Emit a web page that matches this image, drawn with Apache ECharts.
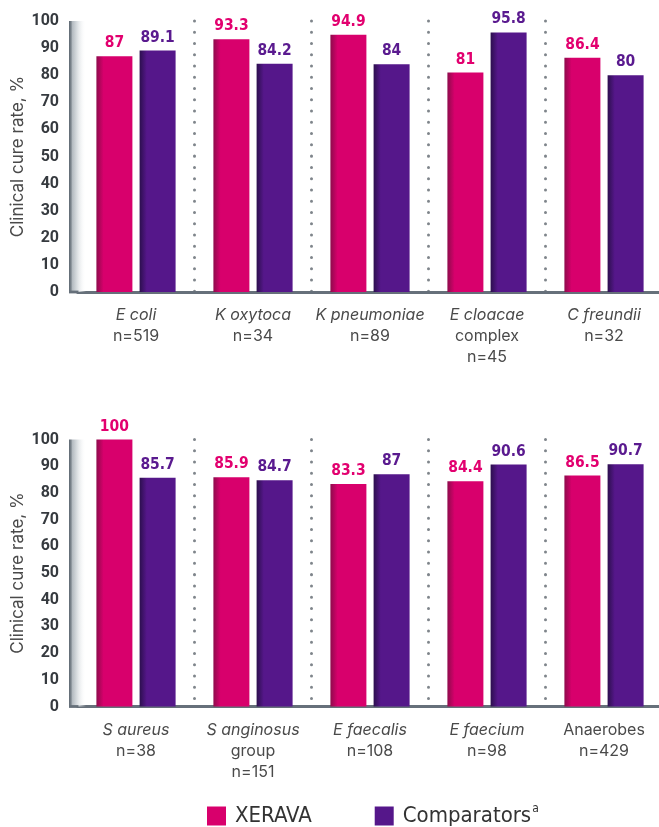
<!DOCTYPE html>
<html>
<head>
<meta charset="utf-8">
<script src="https://cdn.jsdelivr.net/npm/echarts@6/dist/echarts.min.js"></script>
<style>
html,body{margin:0;padding:0;background:#fff;}
#c{width:659px;height:827px;}
</style>
</head>
<body>
<div id="c"></div>
<script>
// ---- data ----
const topSpecies = ['E coli', 'K oxytoca', 'K pneumoniae', 'E cloacae', 'C freundii'];
const topQualifier = ['', '', '', 'complex', ''];
const topItalic = [true, true, true, true, true];
const topN = [519, 34, 89, 45, 32];
const topXerava = [87, 93.3, 94.9, 81, 86.4];
const topComparators = [89.1, 84.2, 84, 95.8, 80];

const bottomSpecies = ['S aureus', 'S anginosus', 'E faecalis', 'E faecium', 'Anaerobes'];
const bottomQualifier = ['', 'group', '', '', ''];
const bottomItalic = [true, true, true, true, false];
const bottomN = [38, 151, 108, 98, 429];
const bottomXerava = [100, 85.9, 83.3, 84.4, 86.5];
const bottomComparators = [85.7, 84.7, 87, 90.6, 90.7];

const yTicks = [0, 10, 20, 30, 40, 50, 60, 70, 80, 90, 100];
const yAxisName = 'Clinical cure rate, %';
const seriesNames = ['XERAVA', 'Comparators'];

// ---- styles ----
const PINK = '#d8006c', PINK_DARK = '#8e0b4c';
const PURPLE = '#55178a', PURPLE_DARK = '#2c0f4e';
const PINK_LABEL = '#e2006f', PURPLE_LABEL = '#5a1a8f';
const NARROW = '"Liberation Sans Narrow", "DejaVu Sans Condensed", "Roboto", sans-serif';
const LABEL_FONT = 'Inter, "Noto Sans", sans-serif';
const Y_OFFSET = 7.5;

function grad(dark, main) {
  return new echarts.graphic.LinearGradient(0, 0, 1, 0, [
    {offset: 0, color: dark}, {offset: 0.2, color: main}, {offset: 1, color: main}
  ]);
}

function catFormatter(species, italic, qualifier, ns) {
  return function (value, idx) {
    const lines = [];
    lines.push((italic[idx] ? '{i|' : '{r|') + species[idx] + '}');
    if (qualifier[idx]) lines.push('{r|' + qualifier[idx] + '}');
    lines.push('{r|n=' + ns[idx] + '}');
    return lines.join('\n');
  };
}

const richCat = {
  i: {fontFamily: LABEL_FONT, fontStyle: 'italic', fontSize: 16, color: '#4a4a4a', lineHeight: 21},
  r: {fontFamily: LABEL_FONT, fontSize: 16, color: '#4a4a4a', lineHeight: 21}
};

function xAxisFor(gridIndex, species, italic, qualifier, ns) {
  return {
    type: 'category', gridIndex: gridIndex, data: species,
    axisTick: {show: false},
    axisLine: {show: true, lineStyle: {color: '#66707a', width: 2.8}},
    axisLabel: {margin: 13, formatter: catFormatter(species, italic, qualifier, ns), rich: richCat, interval: 0},
    splitLine: {
      show: true,
      interval: function (idx) { return idx !== 0; },
      lineStyle: {color: '#7f858b', width: 3, type: [0.01, 11.25], cap: 'round'}
    }
  };
}

function yAxisFor(gridIndex) {
  return {
    type: 'value', gridIndex: gridIndex, min: yTicks[0], max: yTicks[yTicks.length - 1], interval: 10,
    offset: Y_OFFSET,
    axisLine: {show: false}, axisTick: {show: false}, splitLine: {show: false},
    axisLabel: {margin: 11, color: '#363a3f', fontFamily: 'Roboto, sans-serif', fontWeight: 'bold', fontSize: 16, padding: [5, 0, 0, 0]},
    name: yAxisName, nameLocation: 'middle', nameGap: 44, nameRotate: 90, nameMoveOverlap: false,
    nameTextStyle: {fontFamily: LABEL_FONT, fontSize: 17, color: '#4a4a4a'}
  };
}

function barSeries(name, gridIndex, data, dark, main, labelColor) {
  return {
    name: name, type: 'bar', xAxisIndex: gridIndex, yAxisIndex: gridIndex, data: data,
    barWidth: 36, barGap: '20%',
    itemStyle: {color: grad(dark, main)},
    label: {show: true, position: 'top', distance: 5, color: labelColor,
      fontFamily: NARROW, fontWeight: 'bold', fontSize: 15.5},
    emphasis: {disabled: true}
  };
}

const chart = echarts.init(document.getElementById('c'), null, {renderer: 'canvas'});
const option = {
  animation: false,
  backgroundColor: '#ffffff',
  grid: [
    {left: 77.5, top: 21, width: 585, height: 271, containLabel: false, outerBoundsMode: 'none'},
    {left: 77.5, top: 439.5, width: 585, height: 267, containLabel: false, outerBoundsMode: 'none'}
  ],
  xAxis: [
    xAxisFor(0, topSpecies, topItalic, topQualifier, topN),
    xAxisFor(1, bottomSpecies, bottomItalic, bottomQualifier, bottomN)
  ],
  yAxis: [yAxisFor(0), yAxisFor(1)],
  legend: {
    left: 207, top: 803, padding: 0, itemWidth: 19, itemHeight: 19, itemGap: 63, icon: 'rect',
    data: [
      {name: seriesNames[0], itemStyle: {color: PINK}},
      {name: seriesNames[1], itemStyle: {color: PURPLE}}
    ],
    formatter: function (name) {
      return name === 'Comparators' ? '{t|' + name + '}{s|a}' : '{t|' + name + '}';
    },
    textStyle: {
      padding: [0, 0, 0, 4],
      rich: {
        t: {fontFamily: NARROW, fontSize: 22, color: '#333333', lineHeight: 26},
        s: {fontFamily: NARROW, fontSize: 12, color: '#333333', lineHeight: 12, padding: [0, 0, 14, 1]}
      }
    },
    selectedMode: false
  },
  series: [
    barSeries(seriesNames[0], 0, topXerava, PINK_DARK, PINK, PINK_LABEL),
    barSeries(seriesNames[1], 0, topComparators, PURPLE_DARK, PURPLE, PURPLE_LABEL),
    barSeries(seriesNames[0], 1, bottomXerava, PINK_DARK, PINK, PINK_LABEL),
    barSeries(seriesNames[1], 1, bottomComparators, PURPLE_DARK, PURPLE, PURPLE_LABEL)
  ]
};
chart.setOption(option);

// decorative pillar for the value axes, positioned through the library's scales
const decor = [];
[0, 1].forEach(function (g) {
  const rect = chart.getModel().getComponent('grid', g).coordinateSystem.getRect();
  const yTop = chart.convertToPixel({yAxisIndex: g}, yTicks[yTicks.length - 1]);
  const y0 = chart.convertToPixel({yAxisIndex: g}, yTicks[0]);
  const ax = rect.x - Y_OFFSET;
  decor.push({
    type: 'rect', z: 1,
    shape: {x: ax - 1, y: yTop, width: 17, height: y0 - yTop},
    style: {fill: new echarts.graphic.LinearGradient(0, 0, 1, 0, [
      {offset: 0, color: '#5e6872'},
      {offset: 0.12, color: '#7d868e'},
      {offset: 0.2, color: '#b4bbc1'},
      {offset: 0.5, color: '#dde1e4'},
      {offset: 1, color: 'rgba(255,255,255,0)'}
    ])}
  });
  decor.push({
    type: 'line', z: 2,
    shape: {x1: ax - 1, y1: y0, x2: rect.x + 1, y2: y0},
    style: {stroke: '#66707a', lineWidth: 2.8}
  });
});
chart.setOption({graphic: decor});
</script>
</body>
</html>
